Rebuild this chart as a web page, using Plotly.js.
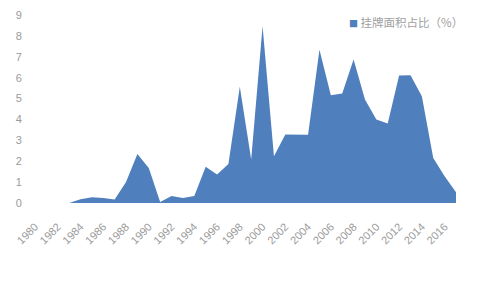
<!DOCTYPE html>
<html>
<head>
<meta charset="utf-8">
<script src="https://cdn.plot.ly/plotly-3.0.1.min.js"></script>
<style>html,body{margin:0;padding:0;background:#fff;}#chart{width:482px;height:288px;}</style>
</head>
<body>
<div id="chart"></div>
<script>
var years = [1980,1981,1982,1983,1984,1985,1986,1987,1988,1989,1990,1991,1992,1993,1994,1995,1996,1997,1998,1999,2000,2001,2002,2003,2004,2005,2006,2007,2008,2009,2010,2011,2012,2013,2014,2015,2016,2017];
var share = [0,0,0,0,0.18,0.28,0.24,0.17,1.0,2.35,1.68,0.05,0.33,0.24,0.33,1.73,1.36,1.87,5.56,2.08,8.46,2.24,3.28,3.26,3.27,7.34,5.16,5.24,6.87,4.95,4.0,3.8,6.1,6.12,5.11,2.16,1.28,0.52];
var tickYears = [1980,1982,1984,1986,1988,1990,1992,1994,1996,1998,2000,2002,2004,2006,2008,2010,2012,2014,2016];
var seriesName = '挂牌面积占比（%）';
var fillColor = '#4f7fbd';

var trace = {
  x: years, y: share, type: 'scatter', mode: 'lines', name: seriesName, showlegend: false,
  fill: 'tozeroy', fillcolor: fillColor, line: {width: 0, color: fillColor}
};
var layout = {
  width: 482, height: 288,
  margin: {l: 34.5, r: 26, t: 15, b: 84.5, autoexpand: false},
  paper_bgcolor: '#fff', plot_bgcolor: '#fff',
  font: {family: 'Liberation Sans, Noto Sans CJK SC, sans-serif', color: '#9a9a9a', size: 11},
  xaxis: {
    range: [1980, 2017], tickmode: 'array', tickvals: tickYears, ticktext: tickYears.map(String),
    tickangle: -45, showgrid: false, zeroline: false, showline: false, automargin: false,
    ticks: 'outside', ticklen: 12, tickcolor: 'rgba(0,0,0,0)', tickfont: {size: 11, color: '#9a9a9a'}
  },
  yaxis: {
    range: [0, 9], dtick: 1, showgrid: false, zeroline: false, showline: false, automargin: false,
    ticks: 'outside', ticklen: 10, tickcolor: 'rgba(0,0,0,0)', tickfont: {size: 11, color: '#9a9a9a'}
  },
  showlegend: false,
  annotations: [{
    xref: 'paper', yref: 'paper', x: 0.741, y: 0.963, xanchor: 'left', yanchor: 'middle', showarrow: false,
    text: '<span style="color:' + fillColor + ';font-size:9px">■</span> ' + seriesName,
    font: {family: 'Noto Sans CJK SC, sans-serif', size: 11.5, color: '#a0a0a0'}
  }]
};
Plotly.newPlot('chart', [trace], layout, {displayModeBar: false, staticPlot: true});
</script>
</body>
</html>
